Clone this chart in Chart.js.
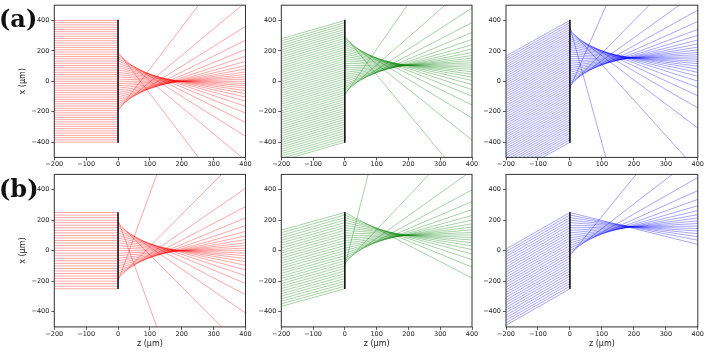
<!DOCTYPE html>
<html><head><meta charset="utf-8">
<script src="https://cdn.jsdelivr.net/npm/chart.js@4"></script>
<style>
html,body{margin:0;padding:0;background:#fff;}
#wrap{position:relative;width:708px;height:355px;overflow:hidden;background:#fff;}
canvas{position:absolute;left:0;top:0;}
.lab{position:absolute;font-family:"DejaVu Serif",serif;font-weight:bold;font-size:24px;line-height:24px;color:#111;}
</style></head><body>
<div id="wrap">
<canvas id="c0" width="708" height="355"></canvas>
<canvas id="c1" width="708" height="355"></canvas>
<canvas id="c2" width="708" height="355"></canvas>
<canvas id="c3" width="708" height="355"></canvas>
<canvas id="c4" width="708" height="355"></canvas>
<canvas id="c5" width="708" height="355"></canvas>
<div class="lab" style="left:-1px;top:7px">(a)</div>
<div class="lab" style="left:-1px;top:177px">(b)</div>
</div>
<script>
// axis ticks
const zTicks = [-200, -100, 0, 100, 200, 300, 400];
const xTicks = [-400, -200, 0, 200, 400];
const zRange = [-200, 400];
const xRange = [-500, 500];
// z positions of ray ends: source plane, lens plane, end plane
const zSource = -200, zLens = 0, zEnd = 400;

// row (a): ray heights at lens plane (um)
const aLens = [-400.0,-385.2,-370.4,-355.6,-340.7,-325.9,-311.1,-296.3,-281.5,-266.7,-251.9,-237.0,-222.2,-207.4,-192.6,-177.8,-163.0,-148.1,-133.3,-118.5,-103.7,-88.9,-74.1,-59.3,-44.4,-29.6,-14.8,0,14.8,29.6,44.4,59.3,74.1,88.9,103.7,118.5,133.3,148.1,163.0,177.8,192.6,207.4,222.2,237.0,251.9,266.7,281.5,296.3,311.1,325.9,340.7,355.6,370.4,385.2,400.0];
// x at z=-200
const aRedLeft = [-400.0,-385.2,-370.4,-355.6,-340.7,-325.9,-311.1,-296.3,-281.5,-266.7,-251.9,-237.0,-222.2,-207.4,-192.6,-177.8,-163.0,-148.1,-133.3,-118.5,-103.7,-88.9,-74.1,-59.3,-44.4,-29.6,-14.8,0,14.8,29.6,44.4,59.3,74.1,88.9,103.7,118.5,133.3,148.1,163.0,177.8,192.6,207.4,222.2,237.0,251.9,266.7,281.5,296.3,311.1,325.9,340.7,355.6,370.4,385.2,400.0];
const aGreenLeft = [-520.2,-505.4,-490.6,-475.8,-460.9,-446.1,-431.3,-416.5,-401.7,-386.9,-372.1,-357.2,-342.4,-327.6,-312.8,-298.0,-283.2,-268.3,-253.5,-238.7,-223.9,-209.1,-194.3,-179.5,-164.6,-149.8,-135.0,-120.2,-105.4,-90.6,-75.8,-60.9,-46.1,-31.3,-16.5,-1.7,13.1,27.9,42.8,57.6,72.4,87.2,102.0,116.8,131.7,146.5,161.3,176.1,190.9,205.7,220.5,235.4,250.2,265.0,279.8];
const aBlueLeft = [-633.9,-619.1,-604.3,-589.5,-574.6,-559.8,-545.0,-530.2,-515.4,-500.6,-485.8,-470.9,-456.1,-441.3,-426.5,-411.7,-396.9,-382.0,-367.2,-352.4,-337.6,-322.8,-308.0,-293.2,-278.3,-263.5,-248.7,-233.9,-219.1,-204.3,-189.5,-174.6,-159.8,-145.0,-130.2,-115.4,-100.6,-85.8,-70.9,-56.1,-41.3,-26.5,-11.7,3.1,18.0,32.8,47.6,62.4,77.2,92.0,106.8,121.7,136.5,151.3,166.1];
// x at z=400 (null: no transmitted ray)
const aRedRight = [null,null,null,null,null,null,null,null,null,null,null,null,null,null,904.4,518.9,361.2,270.1,209.2,164.9,130.9,103.6,80.9,61.5,44.4,28.8,14.2,0,-14.2,-28.8,-44.4,-61.5,-80.9,-103.6,-130.9,-164.9,-209.2,-270.1,-361.2,-518.9,-904.4,null,null,null,null,null,null,null,null,null,null,null,null,null,null];
const aGreenRight = [null,null,null,null,null,null,null,null,null,null,null,null,null,null,null,null,null,null,null,null,null,1110.1,653.6,481.7,385.1,321.3,275.4,240.3,212.3,189.2,169.4,152.0,136.3,121.6,107.4,93.2,78.7,63.2,46.3,27.3,5.1,-21.5,-54.6,-97.3,-155.5,-241.6,-386.9,-718.5,null,null,null,null,null,null,null];
const aBlueRight = [null,null,null,null,null,null,null,null,null,null,null,null,null,null,null,null,null,null,null,null,null,null,null,null,1873.5,826.3,587.4,467.7,393.0,340.8,301.8,271.1,246.1,225.0,206.6,190.1,174.8,160.2,145.8,131.2,115.7,98.9,80.2,58.5,32.6,0.7,-40.1,-95.3,-175.6,-307.5,-588.5,-2691.9,null,null,null];
const aAperture = [-404, 404];

// row (b)
const bLens = [-250,-233.3,-216.7,-200,-183.3,-166.7,-150,-133.3,-116.7,-100,-83.3,-66.7,-50,-33.3,-16.7,0,16.7,33.3,50,66.7,83.3,100,116.7,133.3,150,166.7,183.3,200,216.7,233.3,250];
const bRedLeft = [-250,-233.3,-216.7,-200,-183.3,-166.7,-150,-133.3,-116.7,-100,-83.3,-66.7,-50,-33.3,-16.7,0,16.7,33.3,50,66.7,83.3,100,116.7,133.3,150,166.7,183.3,200,216.7,233.3,250];
const bGreenLeft = [-365.5,-348.8,-332.2,-315.5,-298.8,-282.2,-265.5,-248.8,-232.2,-215.5,-198.8,-182.2,-165.5,-148.8,-132.2,-115.5,-98.8,-82.2,-65.5,-48.8,-32.2,-15.5,1.2,17.8,34.5,51.2,67.8,84.5,101.2,117.8,134.5];
const bBlueLeft = [-489.8,-473.1,-456.5,-439.8,-423.1,-406.5,-389.8,-373.1,-356.5,-339.8,-323.1,-306.5,-289.8,-273.1,-256.5,-239.8,-223.1,-206.5,-189.8,-173.1,-156.5,-139.8,-123.1,-106.5,-89.8,-73.1,-56.5,-39.8,-23.1,-6.5,10.2];
const bRedRight = [null,null,null,2100.8,658.0,408.6,288.7,215.1,164.3,126.4,96.7,72.4,51.7,33.3,16.3,0,-16.3,-33.3,-51.7,-72.4,-96.7,-126.4,-164.3,-215.1,-288.7,-408.6,-658.0,-2100.8,null,null,null];
const bGreenRight = [null,null,null,null,null,null,null,null,null,3172.5,797.5,524.9,398.5,322.1,269.7,230.9,200.7,175.9,154.9,136.3,119.3,103.0,86.7,69.8,51.6,31.1,7.1,-22.0,-58.9,-108.3,-179.2];
const bBlueRight = [null,null,null,null,null,null,null,null,null,null,null,null,null,996.9,629.0,479.7,393.7,336.3,294.6,262.4,236.4,214.6,195.5,178.1,161.6,145.4,128.8,111.0,91.2,68.3,40.7];
const bAperture = [-252, 252];

const W = 708, H = 355;
const colBox = [[54.3, 245.5], [281.3, 472.0], [506.0, 697.8]];
const rowBox = [[5.2, 157.4], [174.4, 326.9]];
const YW = 35.8;
const XH = [14, 21.8];

const panels = [
  {id:'c0', row:0, col:0, left:aRedLeft, lens:aLens, right:aRedRight, rgb:'255,0,0', ap:aAperture},
  {id:'c1', row:0, col:1, left:aGreenLeft, lens:aLens, right:aGreenRight, rgb:'0,128,0', ap:aAperture},
  {id:'c2', row:0, col:2, left:aBlueLeft, lens:aLens, right:aBlueRight, rgb:'0,0,255', ap:aAperture},
  {id:'c3', row:1, col:0, left:bRedLeft, lens:bLens, right:bRedRight, rgb:'255,0,0', ap:bAperture},
  {id:'c4', row:1, col:1, left:bGreenLeft, lens:bLens, right:bGreenRight, rgb:'0,128,0', ap:bAperture},
  {id:'c5', row:1, col:2, left:bBlueLeft, lens:bLens, right:bBlueRight, rgb:'0,0,255', ap:bAperture}
];

const fmt = v => (v < 0 ? '\u2212' + Math.abs(v) : String(v));

const framePlugin = {
  id: 'frame',
  afterDatasetsDraw(chart) {
    const {ctx, chartArea: a} = chart;
    ctx.save();
    ctx.strokeStyle = '#333';
    ctx.lineWidth = 1;
    ctx.strokeRect(a.left, a.top, a.right - a.left, a.bottom - a.top);
    ctx.restore();
  }
};

panels.forEach(p => {
  const datasets = [];
  datasets.push({
    data: [{x: zLens, y: p.ap[0]}, {x: zLens, y: p.ap[1]}],
    showLine: true, borderColor: '#000', borderWidth: 1.5, pointRadius: 0
  });
  for (let i = 0; i < p.lens.length; i++) {
    const pts = [{x: zSource, y: p.left[i]}, {x: zLens, y: p.lens[i]}];
    if (p.right[i] !== null) pts.push({x: zEnd, y: p.right[i]});
    datasets.push({
      data: pts, showLine: true, borderColor: 'rgba(' + p.rgb + ',0.35)',
      borderWidth: 1, pointRadius: 0, borderJoinStyle: 'miter'
    });
  }
  const [L, R] = colBox[p.col];
  const [T, B] = rowBox[p.row];
  const xh = XH[p.row];
  new Chart(document.getElementById(p.id), {
    type: 'scatter',
    data: {datasets},
    options: {
      responsive: false, animation: false, events: [], devicePixelRatio: 1,
      layout: {padding: {left: L - YW, right: W - R, top: T, bottom: H - B - xh}},
      plugins: {legend: {display: false}, tooltip: {enabled: false}},
      scales: {
        x: {
          type: 'linear', min: zRange[0], max: zRange[1],
          afterBuildTicks: s => { s.ticks = zTicks.map(v => ({value: v})); },
          afterFit: s => { s.height = xh; s.paddingLeft = 0; s.paddingRight = 0; },
          grid: {display: true, drawOnChartArea: false, drawTicks: true, tickLength: 3, color: '#333', lineWidth: 0.8},
          border: {display: false},
          ticks: {font: {family: 'DejaVu Sans', size: 6.5}, color: '#222', padding: 0.5, maxRotation: 0, autoSkip: false, callback: v => fmt(v)},
          title: {display: p.row === 1, text: 'z (\u03bcm)', font: {family: 'DejaVu Sans', size: 8}, color: '#222', padding: 0}
        },
        y: {
          type: 'linear', min: xRange[0], max: xRange[1],
          afterBuildTicks: s => { s.ticks = xTicks.map(v => ({value: v})); },
          afterFit: s => { s.width = YW; s.paddingTop = 0; s.paddingBottom = 0; },
          grid: {display: true, drawOnChartArea: false, drawTicks: true, tickLength: 3, color: '#333', lineWidth: 0.8},
          border: {display: false},
          ticks: {font: {family: 'DejaVu Sans', size: 6.5}, color: '#222', padding: 2, autoSkip: false, callback: v => fmt(v)},
          title: {display: p.col === 0, text: 'x (\u03bcm)', font: {family: 'DejaVu Sans', size: 8}, color: '#222', padding: 0}
        }
      }
    },
    plugins: [framePlugin]
  });
});
</script>
</body></html>
